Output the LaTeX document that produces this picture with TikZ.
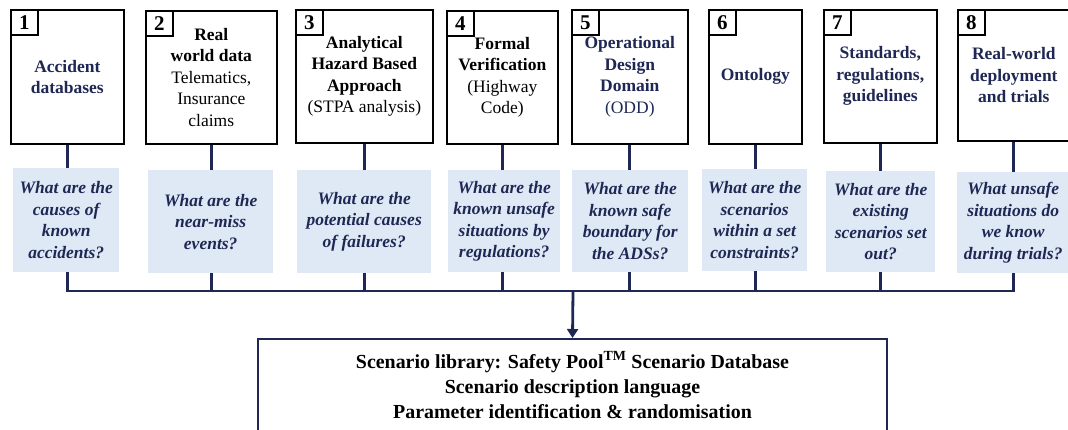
\documentclass[tikz,border=0pt]{standalone}
\usepackage{fontspec}
\setmainfont{Liberation Serif}
\usetikzlibrary{arrows.meta}
\definecolor{navy}{RGB}{31,40,84}
\definecolor{qfill}{RGB}{222,233,245}
\tikzset{
  topbox/.style={draw=black, line width=1.6pt, fill=white, anchor=north west, align=center,
    inner sep=0pt, font=\fontsize{17.5}{21.5}\selectfont\bfseries},
  numbox/.style={draw=black, line width=1.6pt, fill=white, anchor=north west,
    minimum width=27pt, minimum height=25pt, inner sep=0pt, font=\fontsize{21}{22}\selectfont\bfseries},
  qbox/.style={fill=qfill, draw=none, anchor=north west, align=center, inner sep=0pt,
    text=navy, font=\fontsize{17.5}{21.5}\selectfont\bfseries\itshape},
  conn/.style={draw=navy, line width=2.8pt},
  libbox/.style={draw=navy, line width=2pt, fill=white, align=center, inner sep=0pt,
    minimum width=629pt, minimum height=92pt, font=\fontsize{19.9}{25}\selectfont\bfseries},
}
\begin{document}
\begin{tikzpicture}[x=1pt,y=-1pt]
\useasboundingbox (0,0) rectangle (1068,429);
\clip (0,0) rectangle (1068,429);
% top boxes
\node[topbox, minimum width=113pt, minimum height=134pt, text=navy] (t1) at (10,9) {Accident\\databases};
\node[topbox, minimum width=131pt, minimum height=133pt] (t2) at (145,10) {Real\\world data\\\mdseries Telematics,\\\mdseries Insurance\\\mdseries claims};
\node[topbox, minimum width=137pt, minimum height=133pt] (t3) at (295,9) {Analytical\\Hazard Based\\Approach\\\mdseries (STPA analysis)};
\node[topbox, minimum width=111pt, minimum height=133pt] (t4) at (446,10) {Formal\\Verification\\\mdseries (Highway\\\mdseries Code)};
\node[topbox, minimum width=116pt, minimum height=134pt, text=navy] (t5) at (571,9) {Operational\\Design\\Domain\\\mdseries (ODD)};
\node[topbox, minimum width=93pt, minimum height=134pt, text=navy] (t6) at (708,9) {Ontology};
\node[topbox, minimum width=113pt, minimum height=133pt, text=navy] (t7) at (823,9) {Standards,\\regulations,\\guidelines};
\node[topbox, minimum width=112pt, minimum height=131pt, text=navy] (t8) at (957,9) {Real-world\\deployment\\and trials};
% number boxes
\node[numbox] (n1) at (10,9) {1};
\node[numbox] (n2) at (145,10) {2};
\node[numbox] (n3) at (295,9) {3};
\node[numbox] (n4) at (446,10) {4};
\node[numbox] (n5) at (571,9) {5};
\node[numbox] (n6) at (708,9) {6};
\node[numbox] (n7) at (823,9) {7};
\node[numbox] (n8) at (957,9) {8};
% question boxes
\node[qbox, minimum width=106pt, minimum height=104pt] (q1) at (13,168) {What are the\\causes of\\known\\accidents?};
\node[qbox, minimum width=125pt, minimum height=103pt] (q2) at (148,170) {What are the\\near-miss\\events?};
\node[qbox, minimum width=134pt, minimum height=103pt] (q3) at (297,170) {What are the\\potential causes\\of failures?};
\node[qbox, minimum width=112pt, minimum height=102pt] (q4) at (448,170) {What are the\\known unsafe\\situations by\\regulations?};
\node[qbox, minimum width=116pt, minimum height=102pt] (q5) at (572,170) {What are the\\known safe\\boundary for\\the ADSs?};
\node[qbox, minimum width=105pt, minimum height=102pt] (q6) at (702,169) {What are the\\scenarios\\within a set\\constraints?};
\node[qbox, minimum width=109pt, minimum height=101pt] (q7) at (826,171) {What are the\\existing\\scenarios set\\out?};
\node[qbox, minimum width=112pt, minimum height=101pt] (q8) at (957,172) {What unsafe\\situations do\\we know\\during trials?};
% library box
\node[libbox] (lib) at (572.5,385) {Scenario library: Safety Pool\textsuperscript{TM} Scenario Database\\Scenario description language\\Parameter identification \& randomisation};
% connectors
\coordinate (bus) at (573,291);
\foreach \i in {1,...,8} {
  \draw[conn] (t\i.south) -- (t\i.south |- q\i.north);
  \draw[conn] (t\i.south |- q\i.south) -- (t\i.south |- bus);
}
\draw[conn, line cap=rect] (t1.south |- bus) -- (t8.south |- bus);
\draw[conn, -{Triangle[length=9pt,width=11pt]}] (bus) -- (lib.north);
\end{tikzpicture}
\end{document}
